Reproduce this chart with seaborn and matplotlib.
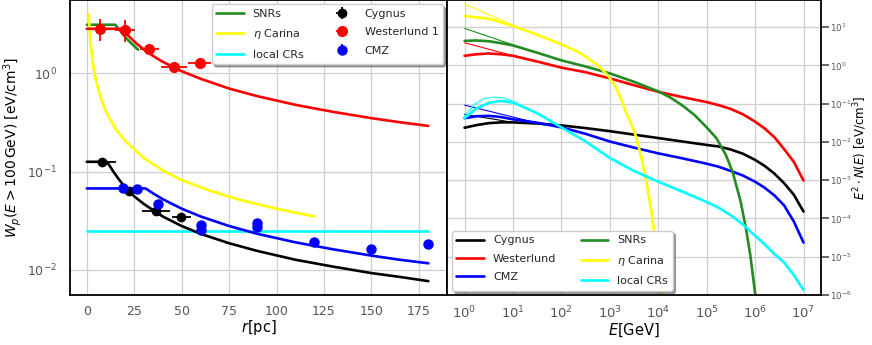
import numpy as np
import pandas as pd
import seaborn as sns
from matplotlib import pyplot as plt
from matplotlib.ticker import NullLocator

# ---- left panel: W_p(E > 100 GeV) against distance r [pc] ----
r_snr = [0, 15, 18, 21, 24, 27]
w_snr = [3.12, 3.12, 2.65, 2.25, 1.97, 1.74]

r_eta = [1, 1.5, 2, 3, 4, 5, 7, 10, 15, 20, 30, 40, 50, 65, 80, 100, 120]
w_eta = [4.0, 2.7, 2.0, 1.35, 1.02, 0.82, 0.59, 0.41, 0.275, 0.207, 0.138,
         0.103, 0.082, 0.064, 0.052, 0.042, 0.035]

r_loc = [0, 180]
w_loc = [0.025, 0.025]

r_wes = [0, 18.5, 22, 26, 30, 35, 40, 50, 60, 75, 90, 110, 130, 150, 165, 180]
w_wes = [2.84, 2.84, 2.4, 2.02, 1.75, 1.5, 1.31, 1.05, 0.88, 0.70, 0.585,
         0.478, 0.405, 0.35, 0.318, 0.292]

r_cyg = [0, 10.5, 12, 14, 17, 20, 25, 30, 40, 50, 60, 75, 90, 110, 130, 150, 165, 180]
w_cyg = [0.126, 0.126, 0.115, 0.1, 0.083, 0.07, 0.056, 0.047, 0.035, 0.028,
         0.0233, 0.0187, 0.0156, 0.0127, 0.0108, 0.0093, 0.0085, 0.0077]

r_cmz = [0, 31, 35, 40, 50, 60, 75, 90, 110, 130, 150, 165, 180]
w_cmz = [0.0675, 0.0675, 0.06, 0.0525, 0.042, 0.035, 0.028, 0.0233, 0.0191,
         0.0162, 0.014, 0.0127, 0.0117]

# measured points
cyg_r = [7.8, 22.3, 36.3, 49.7]
cyg_w = [0.126, 0.0634, 0.0397, 0.0347]
cyg_rerr = [7.4, 0, 7.4, 5.0]
cyg_werr = [0.004, 0.002, 0.002, 0.002]

wes_r = [6.9, 20.0, 32.8, 46.0, 59.4]
wes_w = [2.84, 2.78, 1.78, 1.16, 1.28]
wes_rerr = [6.5, 5.3, 5.0, 6.8, 6.2]
wes_werr = [0.72, 0.68, 0.08, 0.06, 0.06]

cmz_r = [18.9, 26.3, 37.7, 60.1, 60.1, 89.7, 89.7, 119.7, 149.7, 179.6]
cmz_w = [0.0675, 0.066, 0.047, 0.0286, 0.0255, 0.0302, 0.0271, 0.0194, 0.0162, 0.0182]
cmz_werr = [0.002, 0.002, 0.002, 0.0015, 0.0015, 0.0015, 0.0015, 0.001, 0.001, 0.001]

# ---- right panel: log10 E [GeV] and log10 E^2 N(E) [eV/cm^3] ----
lgE = [0, 0.25, 0.5, 0.75, 1, 1.5, 2, 2.5, 3, 3.5, 4, 4.5, 5, 5.25, 5.5, 5.75,
       6, 6.2, 6.4, 6.6, 6.8, 7]
lg_cyg = [-1.63, -1.56, -1.51, -1.49, -1.49, -1.52, -1.57, -1.64, -1.72, -1.81,
          -1.90, -1.99, -2.08, -2.12, -2.20, -2.31, -2.47, -2.63, -2.83, -3.08,
          -3.38, -3.82]
lg_wes = [0.25, 0.29, 0.31, 0.29, 0.25, 0.10, -0.06, -0.18, -0.34, -0.52, -0.69,
          -0.83, -0.96, -1.04, -1.14, -1.28, -1.47, -1.65, -1.88, -2.19, -2.52,
          -3.01]
lg_cmz = [-1.38, -1.33, -1.32, -1.35, -1.41, -1.50, -1.62, -1.79, -1.99, -2.15,
          -2.30, -2.43, -2.57, -2.65, -2.76, -2.88, -3.04, -3.20, -3.40, -3.66,
          -4.08, -4.63]
lg_loc = [-1.38, -1.12, -0.98, -0.93, -0.97, -1.25, -1.62, -1.99, -2.42, -2.76,
          -3.04, -3.30, -3.57, -3.72, -3.92, -4.16, -4.45, -4.68, -4.93, -5.15,
          -5.48, -5.87]

lgE_snr = [0, 0.25, 0.5, 0.75, 1, 1.5, 2, 2.5, 3, 3.5, 4, 4.25, 4.5, 4.75, 5,
           5.2, 5.4, 5.54, 5.7, 5.81, 5.9, 6.0, 6.03]
lg_snr = [0.64, 0.65, 0.63, 0.58, 0.52, 0.33, 0.13, -0.03, -0.21, -0.43, -0.68,
          -0.84, -1.05, -1.30, -1.62, -1.90, -2.35, -2.80, -3.55, -4.25, -4.95,
          -5.95, -6.3]

lgE_eta = [0, 0.5, 1, 1.5, 2, 2.33, 2.5, 2.7, 2.85, 2.98, 3.1, 3.2, 3.34, 3.45,
           3.54, 3.65, 3.75, 3.85, 3.91, 4.0, 4.07, 4.1]
lg_eta = [1.29, 1.22, 1.03, 0.80, 0.55, 0.36, 0.23, 0.05, -0.12, -0.30, -0.52,
          -0.78, -1.25, -1.55, -1.86, -2.40, -3.0, -3.75, -4.3, -5.1, -6.04, -6.5]

# thin analytic power laws at low energy (log10 E, log10 value)
thin_lgE = {"Cygnus": [0, 1], "Westerlund": [0, 1.48], "CMZ": [0, 1.48],
            "SNRs": [0, 1.48], "eta": [0, 1],
            "local CRs": [0, 0.2, 0.4, 0.6, 0.8, 1.0, 1.2]}
thin_lg = {"Cygnus": [-1.28, -1.49], "Westerlund": [0.59, 0.09], "CMZ": [-1.04, -1.50],
           "SNRs": [0.966, 0.33], "eta": [1.60, 1.05],
           "local CRs": [-1.33, -1.02, -0.87, -0.83, -0.85, -0.94, -1.07]}

cols = {"Cygnus": "black", "Westerlund": "red", "CMZ": "blue",
        "SNRs": "forestgreen", "eta": "yellow", "local CRs": "cyan"}

sns.set_theme(style="whitegrid")
plt.rcParams.update({
    "font.family": ["DejaVu Sans"],
    "axes.edgecolor": "black",
    "axes.linewidth": 1.3,
    "grid.color": "#cfcfcf",
    "grid.linewidth": 0.9,
    "xtick.color": "#555555",
    "ytick.color": "#555555",
    "axes.labelcolor": "black",
    "mathtext.fontset": "dejavusans",
})

fig = plt.figure(figsize=(8.72, 3.45), dpi=100)
ax1 = fig.add_axes([0.080, 0.145, 0.433, 0.855])
ax2 = fig.add_axes([0.513, 0.145, 0.428, 0.855])

lw = 1.9

def line(ax, x, y, color, width=lw):
    df = pd.DataFrame({"x": x, "y": y})
    sns.lineplot(data=df, x="x", y="y", ax=ax, color=color, lw=width,
                 sort=False, estimator=None, legend=False)

# left panel
line(ax1, r_snr, w_snr, cols["SNRs"])
line(ax1, r_eta, w_eta, cols["eta"])
line(ax1, r_loc, w_loc, cols["local CRs"])
line(ax1, r_wes, w_wes, cols["Westerlund"])
line(ax1, r_cyg, w_cyg, cols["Cygnus"])
line(ax1, r_cmz, w_cmz, cols["CMZ"])

e_cyg = ax1.errorbar(cyg_r, cyg_w, xerr=cyg_rerr, yerr=cyg_werr, fmt="o", color="black",
                     ms=6, elinewidth=1.3, capsize=0)
e_wes = ax1.errorbar(wes_r, wes_w, xerr=wes_rerr, yerr=wes_werr, fmt="o", color="red",
                     ms=7, elinewidth=1.3, capsize=0)
e_cmz = ax1.errorbar(cmz_r, cmz_w, yerr=cmz_werr, fmt="o", color="blue",
                     ms=6.5, elinewidth=1.3, capsize=0)

ax1.set_yscale("log")
ax1.set_xlim(-9, 190)
ax1.set_ylim(5.57e-3, 5.57)
ax1.set_xticks([0, 25, 50, 75, 100, 125, 150, 175])
ax1.set_yticks([1e-2, 1e-1, 1e0])
ax1.yaxis.set_minor_locator(NullLocator())
ax1.tick_params(axis="x", labelsize=9, pad=1)
ax1.tick_params(axis="y", labelsize=9, pad=3)
ax1.set_xlabel(r"$r$[pc]", fontsize=10.5, labelpad=0)
ax1.set_ylabel(r"$W_p(E > 100\,\mathrm{GeV})$ [eV/cm$^3$]", fontsize=10, labelpad=2)

h = [plt.Line2D([], [], color=cols[k], lw=lw) for k in ["SNRs", "eta", "local CRs"]]
ax1.legend(h + [e_cyg, e_wes, e_cmz],
           ["SNRs", r"$\eta$ Carina", "local CRs", "Cygnus", "Westerlund 1", "CMZ"],
           loc="upper right", ncol=2, fontsize=8, frameon=True, shadow=True,
           framealpha=1, edgecolor="#cccccc", fancybox=True, borderaxespad=0.4,
           columnspacing=2.2, handlelength=2.5, labelspacing=0.75)

# right panel
for k, x, y in [("Cygnus", lgE, lg_cyg), ("Westerlund", lgE, lg_wes),
                ("CMZ", lgE, lg_cmz), ("SNRs", lgE_snr, lg_snr),
                ("eta", lgE_eta, lg_eta), ("local CRs", lgE, lg_loc)]:
    line(ax2, 10.0 ** np.array(thin_lgE[k]), 10.0 ** np.array(thin_lg[k]), cols[k], width=0.8)
    line(ax2, 10.0 ** np.array(x), 10.0 ** np.array(y), cols[k])

ax2.set_xscale("log")
ax2.set_yscale("log")
ax2.set_xlim(0.44, 2.25e7)
ax2.set_ylim(1e-6, 51)
ax2.set_xticks([10.0 ** k for k in range(0, 8)])
ax2.set_yticks([10.0 ** k for k in range(-6, 2)])
ax2.xaxis.set_minor_locator(NullLocator())
ax2.yaxis.set_minor_locator(NullLocator())
ax2.yaxis.tick_right()
ax2.yaxis.set_label_position("right")
ax2.tick_params(axis="x", labelsize=9.5, pad=1)
ax2.tick_params(axis="y", labelsize=6.2, pad=0.8)
ax2.set_xlabel(r"$E$[GeV]", fontsize=10.5, labelpad=0)
ax2.set_ylabel(r"$E^2 \cdot N(E)$ [eV/cm$^3$]", fontsize=8.5)
ax2.yaxis.set_label_coords(1.082, 0.5)

h2 = [plt.Line2D([], [], color=cols[k], lw=lw)
      for k in ["Cygnus", "Westerlund", "CMZ", "SNRs", "eta", "local CRs"]]
ax2.legend(h2, ["Cygnus", "Westerlund", "CMZ", "SNRs", r"$\eta$ Carina", "local CRs"],
           loc="lower left", ncol=2, fontsize=8, frameon=True, shadow=True,
           framealpha=1, edgecolor="#cccccc", fancybox=True, borderaxespad=0.4,
           columnspacing=2.2, handlelength=2.5, labelspacing=0.75)

fig.savefig("out.png", dpi=100)
